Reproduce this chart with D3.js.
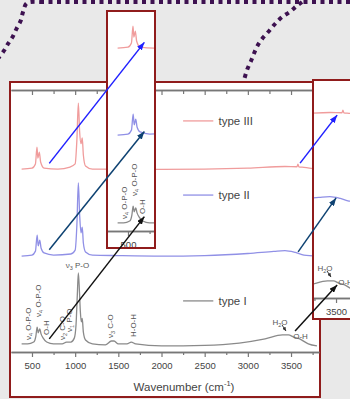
<!DOCTYPE html>
<html>
<head>
<meta charset="utf-8">
<script src="https://cdn.jsdelivr.net/npm/d3@7"></script>
<style>
  body { margin: 0; background: #e9e9e9; }
  svg { display: block; font-family: "Liberation Sans", Arial, sans-serif; }
</style>
</head>
<body>
<svg id="chart" width="350" height="399"></svg>
<script>
// wavenumber (cm-1) and stacked absorbance (a.u., offset included)
var wnI   = [380,450,520,545,560,572,590,605,630,670,750,850,900,950,990,1010,1025,1037,1050,1060,1072,1082,1095,1120,1200,1350,1420,1450,1500,1600,1650,1700,2000,2500,2900,3200,3400,3470,3530,3600,3700,3800];
var absI  = [3.1,3.1,3.8,6.1,9.5,7.3,8.8,6.9,5.3,3.8,3.1,3.1,3.8,3.8,5.3,10.3,21.8,30.2,22.9,15.5,11.5,12.8,7.6,4.6,3.1,2.7,4.2,4.2,3.1,3.1,3.8,3.1,2.3,2.5,3.4,5.0,6.5,6.5,5.7,5.0,3.1,2.3];

var wnII  = [380,500,540,560,572,590,605,640,750,950,1000,1020,1037,1052,1068,1082,1095,1120,1200,1500,2000,2500,3000,3300,3430,3550,3650,3800];
var absII = [36.6,37.0,38.5,44.6,40.5,42.7,39.7,37.8,37.0,37.4,38.9,48.5,64.5,52.3,45.5,47.7,41.6,38.2,37.0,36.8,36.6,36.8,37.6,38.4,38.7,38.0,37.0,36.6];

var wnIII  = [380,500,540,558,568,585,600,640,800,940,1000,1020,1037,1052,1068,1082,1095,1120,1200,2000,3000,3430,3570,3580,3590,3650,3800];
var absIII = [69.8,70.2,71.8,78.2,74.0,76.3,72.5,70.2,69.8,70.6,71.8,80.9,95.0,84.0,79.5,81.7,75.2,71.0,69.8,69.7,70.2,70.8,70.7,71.7,70.7,70.5,69.8];

var seriesNames = ["type III", "type II", "type I"];
var majorTicks = [500,1000,1500,2000,2500,3000,3500];
var minorTicks = [750,1250,1750,2250,2750,3250,3750];

var svg = d3.select("#chart");
var x = d3.scaleLinear().domain([257, 3824]).range([11, 319]);
var y = d3.scaleLinear().domain([0, 100]).range([352, 90]);
var line = d3.line().x(function(d){ return x(d[0]); }).y(function(d){ return y(d[1]); }).curve(d3.curveMonotoneX);

var series = [
  { name: seriesNames[0], wn: wnIII, ab: absIII, color: "#f09c9c", legendAt: 88.2 },
  { name: seriesNames[1], wn: wnII,  ab: absII,  color: "#9090e6", legendAt: 59.9 },
  { name: seriesNames[2], wn: wnI,   ab: absI,   color: "#8a8a8a", legendAt: 19.5 }
];

// band labels, anchored in data space (rotated ones grow upward from the anchor)
var notes = [
  { pre: "\u03bd", sub: "4", post: " O-P-O", wn: 457,  v: 4.6,  rot: true },
  { pre: "\u03bd", sub: "4", post: " O-P-O", wn: 575,  v: 13.4, rot: true },
  { pre: "O-H",    sub: "",  post: "",       wn: 662,  v: 6.5,  rot: true },
  { pre: "\u03bd", sub: "2", post: " C-O",   wn: 853,  v: 4.6,  rot: true },
  { pre: "\u03bd", sub: "1", post: " P-O",   wn: 934,  v: 7.6,  rot: true },
  { pre: "\u03bd", sub: "3", post: " P-O",   wn: 1027, v: 32,   rot: false },
  { pre: "\u03bd", sub: "3", post: " C-O",   wn: 1403, v: 5.3,  rot: true },
  { pre: "H-O-H",  sub: "",  post: "",       wn: 1670, v: 5.7,  rot: true },
  { pre: "H",      sub: "2", post: "O",      wn: 3373, v: 10.3, rot: false },
  { pre: "O-H",    sub: "",  post: "",       wn: 3610, v: 5.0,  rot: false }
];

var topInset = { x: 107, y: 11, w: 48, h: 237, dx: 96, dy: -121 };
var sideInset = { x: 313, y: 80, w: 42, h: 239, dx: 45, dy: -54 };

// arrows from a point in the main plot to the same feature in an inset
var arrows = [
  { from: [700, 72],    to: [690, 72],    inset: topInset,  color: "#2020ff" },
  { from: [700, 39],    to: [690, 38],    inset: topInset,  color: "#0e4272" },
  { from: [700, 5],     to: [690, 5.5],   inset: topInset,  color: "#111111" },
  { from: [3605, 72.1], to: [3513, 69.8], inset: sideInset, color: "#2020ff" },
  { from: [3582, 38.2], to: [3501, 38.2], inset: sideInset, color: "#0e4272" },
  { from: [3547, 8],    to: [3513, 5],    inset: sideInset, color: "#111111" }
];

var defs = svg.append("defs");
function marker(id, color, w, h) {
  defs.append("marker").attr("id", id)
    .attr("markerUnits", "userSpaceOnUse")
    .attr("markerWidth", w).attr("markerHeight", h)
    .attr("refX", w).attr("refY", h / 2).attr("orient", "auto")
    .append("path").attr("d", "M0,0L" + w + "," + (h / 2) + "L0," + h + "Z").attr("fill", color);
}
arrows.forEach(function(a, i){ marker("ah" + i, a.color, 8, 6); });
marker("ahSmall", "#333", 4, 4);

// decorative dotted purple curves in the background
var dotted = d3.line().curve(d3.curveCatmullRom);
var dotStyle = function(p){
  p.attr("fill", "none").attr("stroke", "#3d1150").attr("stroke-width", 4).attr("stroke-dasharray", "4 4.5");
};
svg.append("path").attr("d", dotted([[-8,66],[3.3,51.7],[8.3,43.3],[12.7,36.7],[16.7,28.3],[20.7,20.7],[23,12],[27,3],[40,2]])).call(dotStyle);
svg.append("path").attr("d", "M40,2H352").call(dotStyle);
svg.append("path").attr("d", dotted([[302,2],[296.7,6],[290,11.7],[281.7,17.3],[275,24],[269.3,30.7],[263.3,37.3],[258.3,44.3],[254.3,52.7],[251,61],[247.3,69.3],[244.3,79]])).call(dotStyle);

function drawPlot(g) {
  series.forEach(function(s){
    g.append("path").datum(d3.zip(s.wn, s.ab))
      .attr("fill", "none").attr("stroke", s.color).attr("stroke-width", 1.3).attr("d", line);
  });

  var minor = g.append("g").attr("transform", "translate(0," + y.range()[0] + ")")
    .call(d3.axisBottom(x).tickValues(minorTicks).tickSize(3).tickSizeOuter(0).tickFormat(""));
  var major = g.append("g").attr("transform", "translate(0," + y.range()[0] + ")")
    .call(d3.axisBottom(x).tickValues(majorTicks).tickSize(5).tickSizeOuter(0).tickPadding(5).tickFormat(d3.format("d")));
  [minor, major].forEach(function(a){
    a.select(".domain").attr("stroke", "#777").attr("stroke-width", 1.5);
    a.selectAll(".tick line").attr("stroke", "#777").attr("stroke-width", 1.2);
    a.selectAll(".tick text").attr("fill", "#444").attr("font-size", 9.5).attr("font-family", "Liberation Sans, Arial, sans-serif");
  });

  notes.forEach(function(n){
    var t = g.append("text").attr("font-size", 8).attr("fill", "#555");
    if (n.rot) {
      t.attr("transform", "translate(" + (x(n.wn) + 2.8) + "," + y(n.v) + ") rotate(-90)");
    } else {
      t.attr("x", x(n.wn)).attr("y", y(n.v)).attr("text-anchor", "middle");
    }
    t.append("tspan").text(n.pre);
    if (n.sub) t.append("tspan").attr("font-size", 5.5).attr("dy", 2).text(n.sub);
    if (n.post) t.append("tspan").attr("dy", n.sub ? -2 : 0).text(n.post);
  });

  // little pointer from the H2O label to the hump
  g.append("line")
    .attr("x1", x(3396)).attr("y1", y(10.3)).attr("x2", x(3442)).attr("y2", y(8.0))
    .attr("stroke", "#333").attr("stroke-width", 1).attr("marker-end", "url(#ahSmall)");
}

// main panel
svg.append("rect").attr("x", 10).attr("y", 82).attr("width", 310).attr("height", 315)
  .attr("fill", "#fff").attr("stroke", "#901c1c").attr("stroke-width", 2);

var main = svg.append("g");
drawPlot(main);

var topAxis = main.append("g").attr("transform", "translate(0," + y.range()[1] + ")");
topAxis.append("g").call(d3.axisBottom(x).tickValues(minorTicks).tickSize(4).tickSizeOuter(0).tickFormat(""));
topAxis.append("g").call(d3.axisBottom(x).tickValues(majorTicks).tickSize(5).tickSizeOuter(0).tickFormat(""));
topAxis.selectAll(".domain").attr("stroke", "#777").attr("stroke-width", 1.5);
topAxis.selectAll(".tick line").attr("stroke", "#777").attr("stroke-width", 1.2);

series.forEach(function(s){
  main.append("line").attr("x1", x(2250)).attr("x2", x(2600))
    .attr("y1", y(s.legendAt)).attr("y2", y(s.legendAt))
    .attr("stroke", s.color).attr("stroke-width", 1.3);
  main.append("text").attr("x", x(2660)).attr("y", y(s.legendAt)).attr("dy", "0.35em")
    .attr("font-size", 11.5).attr("fill", "#444").text(s.name);
});

var title = main.append("text").attr("x", 184).attr("y", 391).attr("text-anchor", "middle")
  .attr("font-size", 11.5).attr("fill", "#444");
title.append("tspan").text("Wavenumber (cm");
title.append("tspan").attr("font-size", 7.5).attr("dy", -5).text("-1");
title.append("tspan").attr("dy", 5).text(")");

// magnified insets: same plot, shifted and clipped
[topInset, sideInset].forEach(function(b, i){
  defs.append("clipPath").attr("id", "clip" + i)
    .append("rect").attr("x", b.x).attr("y", b.y).attr("width", b.w).attr("height", b.h);
  svg.append("rect").attr("x", b.x).attr("y", b.y).attr("width", b.w).attr("height", b.h).attr("fill", "#fff");
  var inner = svg.append("g").attr("clip-path", "url(#clip" + i + ")")
    .append("g").attr("transform", "translate(" + b.dx + "," + b.dy + ")");
  drawPlot(inner);
  svg.append("rect").attr("x", b.x).attr("y", b.y).attr("width", b.w).attr("height", b.h)
    .attr("fill", "none").attr("stroke", "#901c1c").attr("stroke-width", 2);
});

arrows.forEach(function(a, i){
  svg.append("line")
    .attr("x1", x(a.from[0])).attr("y1", y(a.from[1]))
    .attr("x2", x(a.to[0]) + a.inset.dx).attr("y2", y(a.to[1]) + a.inset.dy)
    .attr("stroke", a.color).attr("stroke-width", 1.5)
    .attr("marker-end", "url(#ah" + i + ")");
});
</script>
</body>
</html>
